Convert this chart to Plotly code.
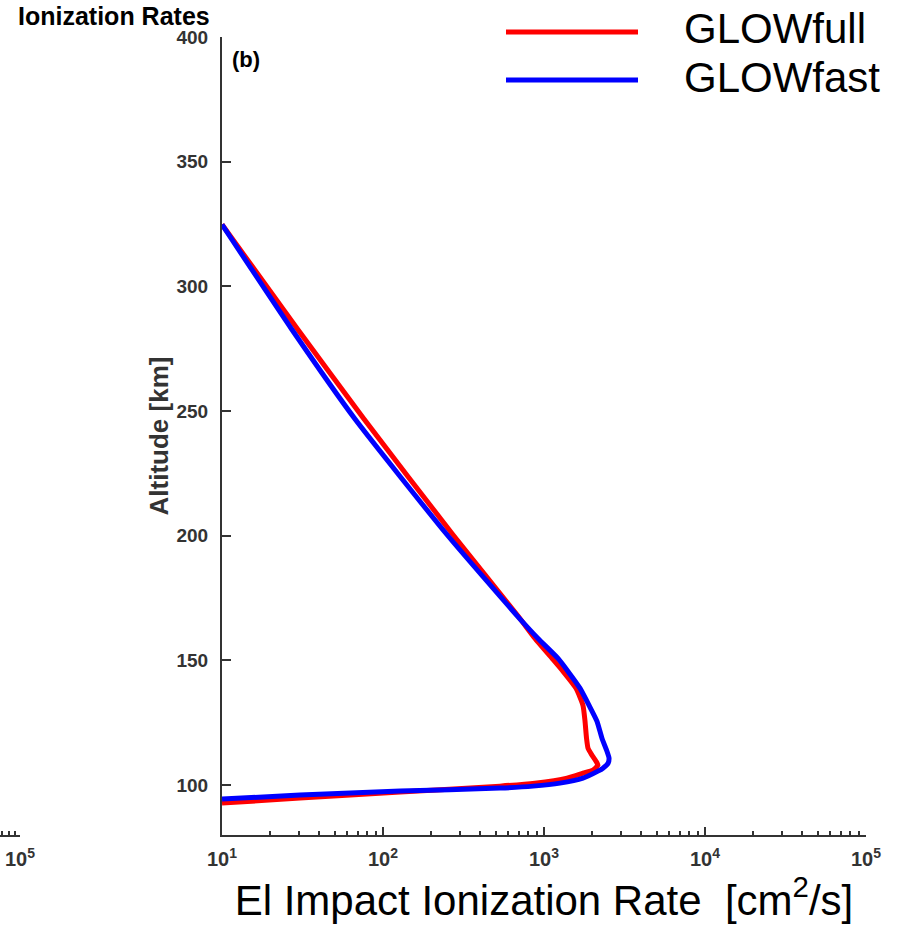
import plotly.graph_objects as go

# ---- data ----
alt_full = [324.8, 282.8, 246.8, 200.4, 168.0, 158.8, 150.8, 145.6, 138.8, 132.0, 125.6, 118.8,
            114.8, 112.0, 109.6, 108.0, 106.0, 104.8, 102.8, 100.8, 99.6, 97.2, 94.8, 92.8]
rate_full = [10, 29.5, 76.2, 272, 686, 879, 1122, 1313, 1581, 1746, 1798, 1837,
             1877, 1987, 2104, 2163, 2014, 1746, 1390, 879, 533, 128, 30.5, 10]
alt_fast = [324.8, 282.8, 246.8, 200.4, 168.0, 158.8, 150.8, 145.6, 138.8, 132.0, 125.6, 118.8,
            113.6, 110.8, 108.8, 106.8, 105.6, 102.8, 100.8, 99.6, 98.8, 97.6, 96.0, 94.4]
rate_fast = [10, 27.1, 67, 250, 679, 918, 1222, 1410, 1675, 1905, 2134, 2291,
             2460, 2535, 2500, 2323, 2163, 1746, 1257, 855, 533, 128, 30.5, 10]

series_names = ["GLOWfull", "GLOWfast"]
series_colors = ["#ff0000", "#0000ff"]

x_tickvals = [10, 100, 1000, 10000, 100000]
x_ticktext = ["10<sup>1</sup>", "10<sup>2</sup>", "10<sup>3</sup>", "10<sup>4</sup>", "10<sup>5</sup>"]
y_tickvals = [100, 150, 200, 250, 300, 350, 400]

W, H = 898, 929
FONT = "Arial, Liberation Sans, sans-serif"
AX = "#333333"


def px(x):
    return x / W


def py(y):
    return 1 - y / H


minor_vals = [m * 10 ** e for e in range(1, 5) for m in range(2, 10)]
minor_vals2 = [m * 10 ** 4 for m in range(2, 10)]

fig = go.Figure()
fig.add_trace(go.Scatter(x=rate_full, y=alt_full, mode="lines", name=series_names[0],
                         line=dict(color=series_colors[0], width=5, shape="spline", smoothing=0.5),
                         showlegend=False))
fig.add_trace(go.Scatter(x=rate_fast, y=alt_fast, mode="lines", name=series_names[1],
                         line=dict(color=series_colors[1], width=5, shape="spline", smoothing=0.5),
                         showlegend=False))
# fragment of the neighbouring panel's axis (empty trace to instantiate it)
fig.add_trace(go.Scatter(x=[], y=[], xaxis="x2", yaxis="y2", showlegend=False))

ydom = [py(835), py(37)]
fig.update_layout(
    width=W, height=H,
    template="none",
    margin=dict(l=0, r=0, t=0, b=0),
    paper_bgcolor="white", plot_bgcolor="white",
    showlegend=False,
    xaxis=dict(
        type="log", range=[1, 5], domain=[px(222), px(866)], anchor="y",
        showgrid=False, zeroline=False, automargin=False,
        showline=True, linecolor=AX, linewidth=2,
        ticks="inside", ticklen=8, tickwidth=1.5, tickcolor=AX,
        tickmode="array", tickvals=x_tickvals, ticktext=x_ticktext,
        tickfont=dict(family=FONT, size=20, color=AX, weight="bold"),
        ticklabelstandoff=5,
        minor=dict(ticks="inside", ticklen=4, tickwidth=1.5, tickcolor=AX,
                   tickmode="array", tickvals=minor_vals, showgrid=False),
        title=dict(text="El Impact Ionization Rate &nbsp;[cm<sup>2</sup>/s]",
                   font=dict(family=FONT, size=42, color="black"), standoff=16),
    ),
    yaxis=dict(
        range=[80, 400], domain=ydom, anchor="x",
        showgrid=False, zeroline=False, automargin=False,
        showline=True, linecolor=AX, linewidth=2,
        ticks="inside", ticklen=9, tickwidth=1.5, tickcolor=AX,
        tickmode="array", tickvals=y_tickvals,
        tickfont=dict(family=FONT, size=19, color=AX, weight="bold"),
        ticklabelstandoff=8,
        title=dict(text="Altitude [km]", font=dict(family=FONT, size=26, color=AX, weight="bold"),
                   standoff=0),
    ),
    xaxis2=dict(
        type="log", range=[4.826, 5], domain=[0, px(20)], anchor="y2",
        showgrid=False, zeroline=False, automargin=False,
        showline=True, linecolor=AX, linewidth=2,
        ticks="inside", ticklen=8, tickwidth=1.5, tickcolor=AX,
        tickmode="array", tickvals=[100000], ticktext=["10<sup>5</sup>"],
        tickfont=dict(family=FONT, size=20, color=AX, weight="bold"),
        ticklabelstandoff=5,
        minor=dict(ticks="inside", ticklen=4, tickwidth=1.5, tickcolor=AX,
                   tickmode="array", tickvals=minor_vals2, showgrid=False),
    ),
    yaxis2=dict(range=[80, 400], domain=ydom, anchor="x2", visible=False),
)

# custom legend (long line samples)
legend_rows = [(32, 29), (80, 77)]
for (ly, ty), name, color in zip(legend_rows, series_names, series_colors):
    fig.add_shape(type="line", xref="paper", yref="paper",
                  x0=px(506), x1=px(638), y0=py(ly), y1=py(ly),
                  line=dict(color=color, width=5))
    fig.add_annotation(text=name, xref="paper", yref="paper", x=px(682), y=py(ty),
                       xanchor="left", yanchor="middle", showarrow=False,
                       font=dict(family=FONT, size=42, color="black"))

fig.add_annotation(text="Ionization Rates", xref="paper", yref="paper", x=px(16), y=py(16),
                   xanchor="left", yanchor="middle", showarrow=False,
                   font=dict(family=FONT, size=25, color="black", weight="bold"))
fig.add_annotation(text="(b)", xref="paper", yref="paper", x=px(230), y=py(59),
                   xanchor="left", yanchor="middle", showarrow=False,
                   font=dict(family=FONT, size=22, color="black", weight="bold"))

fig.write_html("out.html")
